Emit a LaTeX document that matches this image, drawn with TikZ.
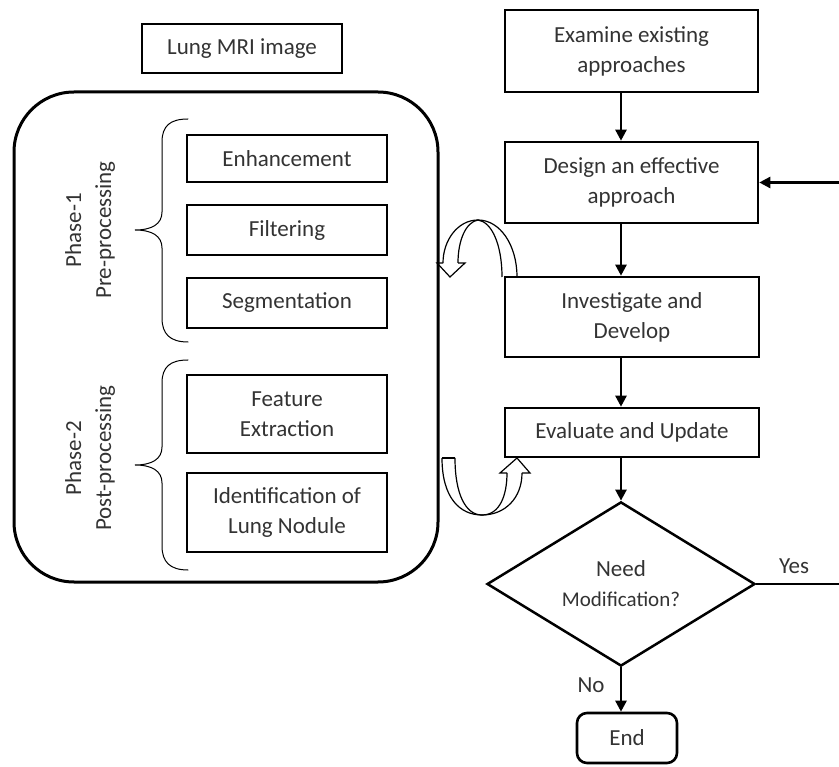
\documentclass[tikz,border=0pt]{standalone}
\usepackage{fontspec}
\setmainfont{Carlito}
\usetikzlibrary{arrows.meta,shapes.geometric}
\definecolor{txt}{HTML}{333333}
\begin{document}
\begin{tikzpicture}[x=1pt,y=-1pt,
  every node/.style={font=\fontsize{23}{30}\selectfont, text=txt},
  box/.style={draw, line width=2.6pt, inner sep=0pt, align=center},
  flow/.style={line width=2.5pt, -{Triangle[length=11pt,width=11pt]}},
  brace/.style={line width=1pt, line cap=round},
  ribbon/.style={line width=1.2pt, line join=miter}]
\useasboundingbox (0,0) rectangle (839,767);
\clip (0,0) rectangle (839,767);

% input and processing frame
\node[box, minimum width=200, minimum height=49] (mri) at (242,48.5) {Lung MRI image};
\node[draw, line width=3pt, rounded corners=60pt, minimum width=424, minimum height=490] (frame) at (226,337) {};

\node[box, minimum width=200, minimum height=47] (enh) at (287,158.5) {Enhancement};
\node[box, minimum width=200, minimum height=50] (fil) at (287,230) {Filtering};
\node[box, minimum width=200, minimum height=50] (seg) at (287,303) {Segmentation};
\node[box, minimum width=200, minimum height=78] (feat) at (287,414) {Feature\\Extraction};
\node[box, minimum width=200, minimum height=79] (ident) at (287,512.5) {Identification of\\Lung Nodule};

\node[rotate=90, align=center] (ph1) at (90,230) {Phase-1\\Pre-processing};
\node[rotate=90, align=center] (ph2) at (90,458) {Phase-2\\Post-processing};

% braces grouping the steps of each phase
\draw[brace] (188,119) .. controls (170,119) and (162,126) .. (162,142) -- (162,212)
  .. controls (162,224) and (152,230) .. (135,230)
  .. controls (152,230) and (162,236) .. (162,248) -- (162,318)
  .. controls (162,334) and (170,342) .. (188,342);
\draw[brace] (188,360) .. controls (170,360) and (162,367) .. (162,383) -- (162,447)
  .. controls (162,459) and (152,465) .. (135,465)
  .. controls (152,465) and (162,471) .. (162,483) -- (162,546)
  .. controls (162,562) and (170,570) .. (188,570);

% research workflow
\node[box, minimum width=253, minimum height=82] (exam) at (631.5,51) {Examine existing\\approaches};
\node[box, minimum width=253, minimum height=81] (design) at (631.5,182.5) {Design an effective\\approach};
\node[box, minimum width=254, minimum height=80] (invest) at (632,317) {Investigate and\\Develop};
\node[box, minimum width=254, minimum height=49] (eval) at (632,432.5) {Evaluate and Update};
\node[draw, diamond, line width=2.5pt, inner sep=0pt, minimum width=268, minimum height=155, align=center] (dec) at (621,584)
  {Need\\{\fontsize{21}{26}\selectfont Modification?}};
\node[box, rounded corners=10pt, minimum width=100, minimum height=50] (end) at (627,738) {End};

\draw[flow] (exam.south -| dec.north) -- (design.north -| dec.north);
\draw[flow] (design.south -| dec.north) -- (invest.north -| dec.north);
\draw[flow] (invest.south -| dec.north) -- (eval.north -| dec.north);
\draw[flow] (eval.south -| dec.north) -- (dec.north);
\draw[flow] (dec.south) -- (end.north -| dec.south);
\coordinate (loop) at (850,584);
\draw[flow] (dec.east) -- (loop) |- (design.east);

\node (yes) at (794,566) {Yes};
\node (no) at (591,685) {No};

% hollow curved arrows between the two halves
\draw[ribbon] (517,277) .. controls (517,245) and (500,220) .. (478,220) .. controls (458,220) and (443,240) .. (443,263);
\draw[ribbon] (502,277) .. controls (502,245) and (492,222) .. (478,220) .. controls (466,222) and (458,240) .. (458,263);
\draw[ribbon] (443,263) -- (437,263) -- (450,277) -- (465,263) -- (458,263);

\draw[ribbon] (442,458) .. controls (442,498) and (460,515) .. (482,515) .. controls (500,515) and (507,495) .. (507,473);
\draw[ribbon] (455,458) .. controls (455,495) and (466,515) .. (482,515) .. controls (505,515) and (522,498) .. (522,473);
\draw[ribbon] (507,473) -- (500,473) -- (517,458) -- (530,473) -- (522,473);
\draw[ribbon] (442,458) -- (455,458);
\end{tikzpicture}
\end{document}
